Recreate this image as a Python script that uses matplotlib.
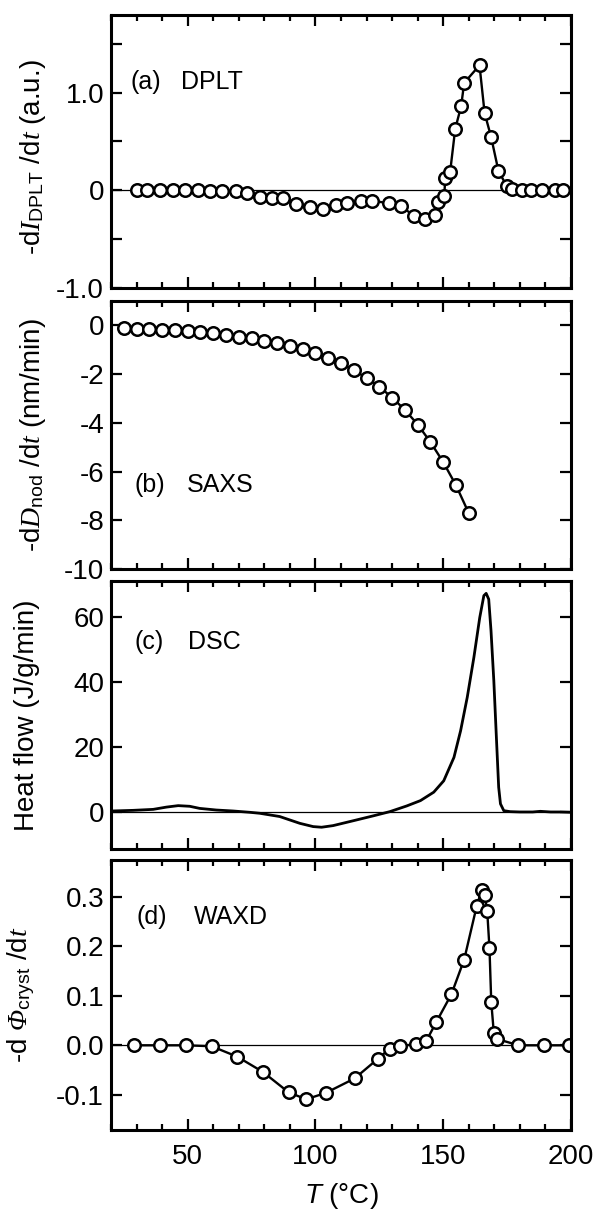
#!/usr/bin/env python3
"""Four stacked panels: DPLT, SAXS, DSC and WAXD rates against temperature."""

import matplotlib

matplotlib.use("Agg")
import matplotlib.pyplot as plt
from matplotlib.ticker import MultipleLocator, FixedLocator, FixedFormatter

# (a) DPLT
dplt_T = [30.1, 34.2, 39.2, 44.1, 49.0, 53.9, 58.8, 63.6, 68.8, 73.4, 78.3, 82.9,
          87.2, 92.2, 97.9, 102.9, 108.1, 112.5, 117.8, 122.1, 128.6, 133.4, 138.6,
          142.9, 146.9, 147.9, 150.4, 150.8, 152.7, 154.7, 157.0, 158.2, 164.2,
          166.2, 168.7, 171.6, 174.9, 176.9, 180.8, 184.4, 188.6, 193.8, 196.9]
dplt_val = [0, 0, 0, 0, 0, 0, -0.005, -0.005, -0.01, -0.03, -0.07, -0.08,
            -0.08, -0.14, -0.17, -0.19, -0.15, -0.13, -0.105, -0.105, -0.133, -0.163, -0.26,
            -0.29, -0.25, -0.12, -0.06, 0.126, 0.187, 0.63, 0.86, 1.10, 1.28,
            0.79, 0.55, 0.20, 0.04, 0.017, 0, 0, 0, 0, 0]

# (b) SAXS
saxs_T = [25, 30, 35, 40, 45, 50, 55, 60, 65, 70, 75, 80, 85, 90, 95, 100,
          105, 110, 115, 120, 125, 130, 135, 140, 145, 150, 155, 160]
saxs_val = [-0.12, -0.14, -0.16, -0.19, -0.21, -0.25, -0.29, -0.34, -0.40, -0.47,
            -0.54, -0.63, -0.73, -0.84, -0.97, -1.13, -1.34, -1.56, -1.85, -2.16,
            -2.52, -2.97, -3.47, -4.07, -4.79, -5.61, -6.56, -7.70]

# (c) DSC
dsc_T = [20.3, 28.7, 36.5, 41.7, 46.3, 50.8, 54.7, 61.2, 67.8, 74.3, 78.2, 86.0,
         93.9, 99.1, 102.4, 106.9, 114.8, 122.6, 129.1, 135.7, 141.1, 146.3, 150.2,
         154.2, 156.8, 159.4, 162.0, 164.3, 165.9, 166.8, 167.8, 168.7, 169.8,
         170.8, 171.7, 172.4, 173.7, 176.2, 180, 185, 188, 192, 196, 200]
dsc_val = [0.4, 0.6, 0.9, 1.6, 2.05, 1.85, 1.2, 0.7, 0.4, 0.0, -0.3, -1.3,
           -3.4, -4.4, -4.6, -4.1, -2.6, -1.1, 0.2, 1.95, 3.6, 6.2, 9.7,
           16.9, 25.1, 35.4, 47.7, 60.0, 66.7, 67.4, 65.6, 55.9, 40.5,
           23.1, 7.7, 2.6, 0.5, 0.2, 0.1, 0.1, 0.3, 0.1, 0.1, 0.0]

# (d) WAXD
waxd_T = [29.1, 39.3, 49.4, 59.4, 69.4, 79.5, 89.5, 96.4, 104.1, 115.3, 124.5,
          129.0, 133.2, 139.5, 143.3, 147.3, 153.2, 158.2, 163.1, 165.0, 166.2,
          167.2, 168.1, 168.8, 169.8, 170.9, 179.4, 189.4, 199.4]
waxd_val = [0.0, 0.0, 0.0, -0.002, -0.023, -0.054, -0.095, -0.109, -0.096, -0.067,
            -0.027, -0.007, -0.001, 0.002, 0.008, 0.047, 0.103, 0.173, 0.281, 0.313,
            0.304, 0.272, 0.196, 0.087, 0.025, 0.013, 0.0, 0.0, 0.0]

plt.rcParams.update({
    "font.family": "Liberation Sans",
    "font.size": 20,
    "axes.unicode_minus": False,
    "mathtext.fontset": "custom",
    "mathtext.rm": "Liberation Sans",
    "mathtext.it": "Liberation Serif:italic",
    "mathtext.cal": "Liberation Serif:italic",  # italic capital Greek
    "mathtext.sf": "Liberation Sans:italic",
})

W, H = 597, 1217
# axes boxes in pixels: (top, bottom)
BOXES = [(14.5, 288), (300.7, 569.3), (580.7, 849), (860, 1130)]
LEFT, RIGHT = 111, 571
LABEL_FS = 18

fig = plt.figure(figsize=(W / 100, H / 100), dpi=100)
axes = []
for top, bot in BOXES:
    ax = fig.add_axes([LEFT / W, 1 - bot / H, (RIGHT - LEFT) / W, (bot - top) / H])
    axes.append(ax)

line_kw = dict(color="black", lw=2.0)
mark_kw = dict(color="black", lw=1.7, marker="o", ms=9, mfc="white",
               mec="black", mew=1.8)

for ax in axes:
    ax.set_xlim(20, 200)
    ax.xaxis.set_major_locator(MultipleLocator(50))
    ax.xaxis.set_minor_locator(MultipleLocator(10))
    ax.tick_params(which="both", direction="in", top=True, right=True, width=1.6)
    ax.tick_params(which="major", length=8, labelsize=20)
    ax.tick_params(which="minor", length=4.5)
    ax.tick_params(axis="y", pad=5)
    ax.tick_params(axis="x", pad=10)
    for sp in ax.spines.values():
        sp.set_linewidth(2.2)
    if ax is not axes[-1]:
        ax.tick_params(axis="x", labelbottom=False)

# (a)
ax = axes[0]
ax.axhline(0, color="black", lw=0.9, zorder=1)
ax.plot(dplt_T, dplt_val, **mark_kw)
ax.set_ylim(-1.0, 1.8)
ax.yaxis.set_major_locator(FixedLocator([-1.0, -0.5, 0, 0.5, 1.0, 1.5]))
ax.yaxis.set_major_formatter(FixedFormatter(["-1.0", "", "0", "", "1.0", ""]))
ax.set_ylabel(r"-d$\mathit{I}_{\mathrm{DPLT}}$ /d$\mathit{t}$ (a.u.)")
ax.yaxis.set_label_coords(-0.137, 0.48)
ax.text(0.043, 0.753, "(a)", transform=ax.transAxes, va="center", fontsize=LABEL_FS)
ax.text(0.152, 0.753, "DPLT", transform=ax.transAxes, va="center", fontsize=LABEL_FS)

# (b)
ax = axes[1]
ax.plot(saxs_T, saxs_val, **mark_kw)
ax.set_ylim(-10, 1)
ax.yaxis.set_major_locator(MultipleLocator(2))
ax.set_ylabel(r"-d$\mathit{D}_{\mathrm{nod}}$ /d$\mathit{t}$ (nm/min)")
ax.yaxis.set_label_coords(-0.137, 0.5)
ax.text(0.05, 0.314, "(b)", transform=ax.transAxes, va="center", fontsize=LABEL_FS)
ax.text(0.164, 0.314, "SAXS", transform=ax.transAxes, va="center", fontsize=LABEL_FS)

# (c)
ax = axes[2]
ax.axhline(0, color="black", lw=0.9, zorder=1)
ax.plot(dsc_T, dsc_val, **line_kw)
ax.set_ylim(-11.3, 71.3)
ax.yaxis.set_major_locator(MultipleLocator(20))
ax.set_ylabel("Heat flow (J/g/min)")
ax.yaxis.set_label_coords(-0.154, 0.5)
ax.text(0.05, 0.773, "(c)", transform=ax.transAxes, va="center", fontsize=LABEL_FS)
ax.text(0.167, 0.773, "DSC", transform=ax.transAxes, va="center", fontsize=LABEL_FS)

# (d)
ax = axes[3]
ax.axhline(0, color="black", lw=0.9, zorder=1)
ax.plot(waxd_T, waxd_val, **mark_kw)
ax.set_ylim(-0.171, 0.374)
ax.yaxis.set_major_locator(FixedLocator([-0.1, 0.0, 0.1, 0.2, 0.3]))
ax.yaxis.set_major_formatter(FixedFormatter(["-0.1", "0.0", "0.1", "0.2", "0.3"]))
ax.set_ylabel(r"-d $\mathcal{\Phi}_{\mathrm{cryst}}$ /d$\mathit{t}$")
ax.yaxis.set_label_coords(-0.16, 0.5)
ax.text(0.055, 0.79, "(d)", transform=ax.transAxes, va="center", fontsize=LABEL_FS)
ax.text(0.181, 0.79, "WAXD", transform=ax.transAxes, va="center", fontsize=LABEL_FS)
ax.set_xlabel(r"$\mathsf{T}$ (°C)", labelpad=8)

fig.savefig("out.png", dpi=100)
